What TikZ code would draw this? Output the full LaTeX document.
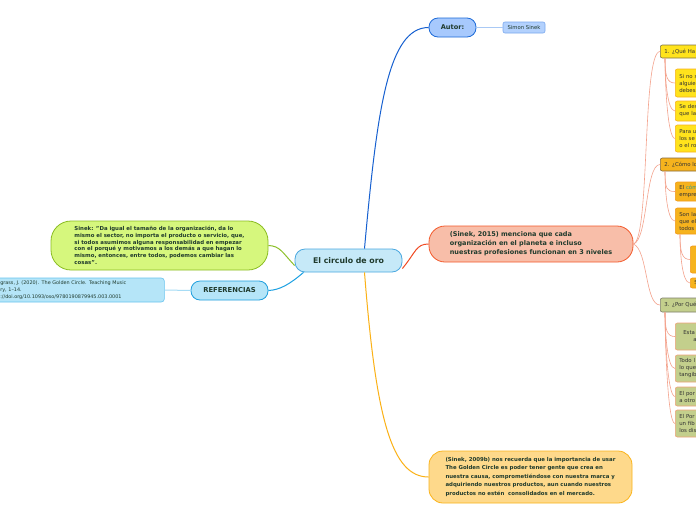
\documentclass[tikz,border=0pt]{standalone}
\usepackage{fontspec}
\setmainfont{DejaVu Sans}
\definecolor{txtdark}{HTML}{1F3A2C}
\definecolor{cfill}{HTML}{C6E9F8}\definecolor{cdraw}{HTML}{4AA8E0}
\definecolor{afill}{HTML}{A7C9FD}\definecolor{adraw}{HTML}{1C6AD8}
\definecolor{sfill}{HTML}{B3D1FD}\definecolor{sdraw}{HTML}{7AA8EE}
\definecolor{pfill}{HTML}{F8BEA9}\definecolor{pdraw}{HTML}{F35A2C}
\definecolor{yfill}{HTML}{FED98B}\definecolor{ydraw}{HTML}{FBB41B}
\definecolor{gfill}{HTML}{D6F77D}\definecolor{gdraw}{HTML}{8BBD22}
\definecolor{rfill}{HTML}{B5E5F8}\definecolor{rdraw}{HTML}{1F9FDD}\definecolor{rdraw2}{HTML}{68C4EF}
\definecolor{lautor}{HTML}{1660D0}\definecolor{lsimon}{HTML}{A9C9F5}
\definecolor{lpink}{HTML}{F04A23}\definecolor{lyellow}{HTML}{FBB116}
\definecolor{lgreen}{HTML}{8DC02A}\definecolor{lref}{HTML}{1CA0E2}\definecolor{lref2}{HTML}{A7DCF5}
\definecolor{lsalmon}{HTML}{F4A28C}
\definecolor{hAfill}{HTML}{FFE31C}\definecolor{hAdraw}{HTML}{7E7444}
\definecolor{hBfill}{HTML}{F6B31D}\definecolor{hBdraw}{HTML}{85683A}
\definecolor{hCfill}{HTML}{C3CF8C}\definecolor{hCdraw}{HTML}{7D7D6A}
\definecolor{kAdraw}{HTML}{F7B21C}\definecolor{kBdraw}{HTML}{F29A1A}\definecolor{kCdraw}{HTML}{EEA37A}
\definecolor{rtxt}{HTML}{333333}\definecolor{como}{HTML}{2F9A8A}
\tikzset{
  mainbox/.style={draw, line width=0.8pt, inner sep=0pt, align=left, text=txtdark, font=\bfseries},
  rbox/.style={draw, line width=0.6pt, rounded corners=2pt, anchor=west, inner xsep=4pt, inner ysep=0pt,
     text width=60pt, align=left, text=rtxt, font=\fontsize{5.4}{7}\selectfont},
  conn/.style={line width=1pt},
  thin/.style={line width=0.6pt, draw=lsalmon}
}
\begin{document}
\begin{tikzpicture}[x=1pt,y=-1pt]
\useasboundingbox (0,0) rectangle (696,520);
\clip (0,0) rectangle (696,520);
\fill[white] (0,0) rectangle (696,520);

% main nodes
\node[mainbox, fill=cfill, draw=cdraw, rounded corners=10pt, minimum width=107pt, minimum height=23pt,
  font=\bfseries\fontsize{7.8}{9}\selectfont] (center) at (348.5,260.5) {El circulo de oro};
\node[mainbox, fill=afill, draw=adraw, rounded corners=9pt, minimum width=47pt, minimum height=19pt,
  font=\bfseries\fontsize{6.6}{8}\selectfont] (autor) at (452.5,27.5) {Autor:};
\node[mainbox, fill=sfill, draw=sdraw, line width=0.6pt, rounded corners=2pt, minimum width=42pt, minimum height=11pt,
  font=\fontsize{5.3}{6}\selectfont] (simon) at (524,27.5) {Simon Sinek};
\node[mainbox, fill=pfill, draw=pdraw, rounded corners=16pt, minimum width=204pt, minimum height=36pt,
  font=\bfseries\fontsize{6.5}{8.8}\selectfont] (pink) at (531,244)
  {(Sinek, 2015) menciona que cada\\organización en el planeta e incluso\\nuestras profesiones funcionan en 3 niveles};
\node[mainbox, fill=yfill, draw=ydraw, rounded corners=14pt, minimum width=203pt, minimum height=52pt,
  font=\bfseries\fontsize{5.4}{8.5}\selectfont] (yellow) at (530.5,477)
  {(Sinek, 2009b) nos recuerda que la importancia de usar\\The Golden Circle es poder tener gente que crea en\\nuestra causa, comprometiéndose con nuestra marca y\\adquiriendo nuestros productos, aun cuando nuestros\\productos no estén\ \ consolidados en el mercado.};
\node[mainbox, fill=gfill, draw=gdraw, rounded corners=20pt, minimum width=217pt, minimum height=49pt,
  font=\bfseries\fontsize{5.4}{6.7}\selectfont] (green) at (159.5,245.5)
  {Sinek: "Da igual el tamaño de la organización, da lo\\mismo el sector, no importa el producto o servicio, que,\\si todos asumimos alguna responsabilidad en empezar\\con el porqué y motivamos a los demás a que hagan lo\\mismo, entonces, entre todos, podemos cambiar las\\cosas".};
\node[mainbox, fill=rfill, draw=rdraw, rounded corners=9pt, minimum width=77pt, minimum height=19pt,
  font=\bfseries\fontsize{6.8}{8}\selectfont] (refs) at (229.5,290.5) {REFERENCIAS};
\node[draw=rdraw2, fill=rfill, line width=0.6pt, rounded corners=3pt, anchor=west, inner xsep=10pt, inner ysep=0pt,
  text width=154pt, minimum height=24pt, align=left, text=txtdark, font=\fontsize{4.9}{7}\selectfont] (reftext) at (-10,290)
  {grass, J. (2020). The Golden Circle. Teaching Music\\ry, 1–14.\\://doi.org/10.1093/oso/9780190879945.003.0001};

% right column
\node[rbox, fill=hAfill, draw=hAdraw, minimum height=13pt, text=black!80] (h1) at (660,51.5) {1. ¿Qué Ha};
\node[rbox, fill=hAfill, draw=kAdraw, minimum height=28pt] (c11) at (675,83) {Si no s\\alguie\\debes};
\node[rbox, fill=hAfill, draw=kAdraw, minimum height=20pt] (c12) at (675,111) {Se des\\que la};
\node[rbox, fill=hAfill, draw=kAdraw, minimum height=27pt] (c13) at (675,138.5) {Para u\\los se\\o el ro};
\node[rbox, fill=hBfill, draw=hBdraw, minimum height=13pt, text=black!80] (h2) at (660,164.5) {2. ¿Cómo lo};
\node[rbox, fill=hBfill, draw=kBdraw, minimum height=19pt] (c21) at (675,191.5) {El {\color{como}cóm}\\empre};
\node[rbox, fill=hBfill, draw=kBdraw, minimum height=26pt] (c22) at (675,221) {Son la\\que el\\todos};
\node[rbox, fill=hBfill, draw=kBdraw, minimum height=27pt] (c221) at (690,259.5) {};
\node[rbox, fill=hBfill, draw=kBdraw, minimum height=10pt] (c222) at (690,283) {S};
\node[rbox, fill=hCfill, draw=hCdraw, minimum height=14pt, text=black!80] (h3) at (660,305) {3. ¿Por Qué};
\node[rbox, fill=hCfill, draw=kCdraw, minimum height=27pt] (c31) at (675,336.5) {\hspace*{4pt}Esta\\\hspace*{14pt}am};
\node[rbox, fill=hCfill, draw=kCdraw, minimum height=27pt] (c32) at (675,368.5) {Todo l\\lo que\\tangib};
\node[rbox, fill=hCfill, draw=kCdraw, minimum height=19pt] (c33) at (675,396.5) {El por\\a otro};
\node[rbox, fill=hCfill, draw=kCdraw, minimum height=27pt] (c34) at (675,423.5) {El Por\\un fib\\los dis};

% connectors
\draw[conn, draw=lautor] ([xshift=16pt]center.north) .. controls (377,110) and (388,27.5) .. (autor.west);
\draw[line width=1pt, draw=lsimon] (autor.east) -- (simon.west);
\draw[conn, draw=lpink] ([yshift=-8pt]center.east) .. controls (416,252) and (416,244) .. (pink.west);
\draw[conn, draw=lyellow] ([xshift=16pt]center.south) .. controls (376,420) and (392,477) .. (yellow.west);
\draw[conn, draw=lgreen] ([yshift=-5pt]center.west) .. controls (282,252) and (280,246) .. (green.east);
\draw[conn, draw=lref] ([xshift=-45pt]center.south) .. controls (290,284) and (280,290) .. (refs.east);
\draw[line width=1pt, draw=lref2] (refs.west) -- (reftext.east);

\draw[thin] (pink.east) .. controls (650,240) and (642,51.5) .. (h1.west);
\draw[thin] (pink.east) .. controls (648,240) and (645,164.5) .. (h2.west);
\draw[thin] (pink.east) .. controls (648,250) and (645,305) .. (h3.west);

\foreach \c in {c11,c12,c13}{\draw[thin] ([xshift=5pt]h1.south west) .. controls +(0,18) and +(-8,0) .. (\c.west);}
\foreach \c in {c21,c22}{\draw[thin] ([xshift=5pt]h2.south west) .. controls +(0,18) and +(-8,0) .. (\c.west);}
\foreach \c in {c221,c222}{\draw[thin] ([xshift=5pt]c22.south west) .. controls +(0,18) and +(-8,0) .. (\c.west);}
\foreach \c in {c31,c32,c33,c34}{\draw[thin] ([xshift=5pt]h3.south west) .. controls +(0,18) and +(-8,0) .. (\c.west);}
\end{tikzpicture}
\end{document}
